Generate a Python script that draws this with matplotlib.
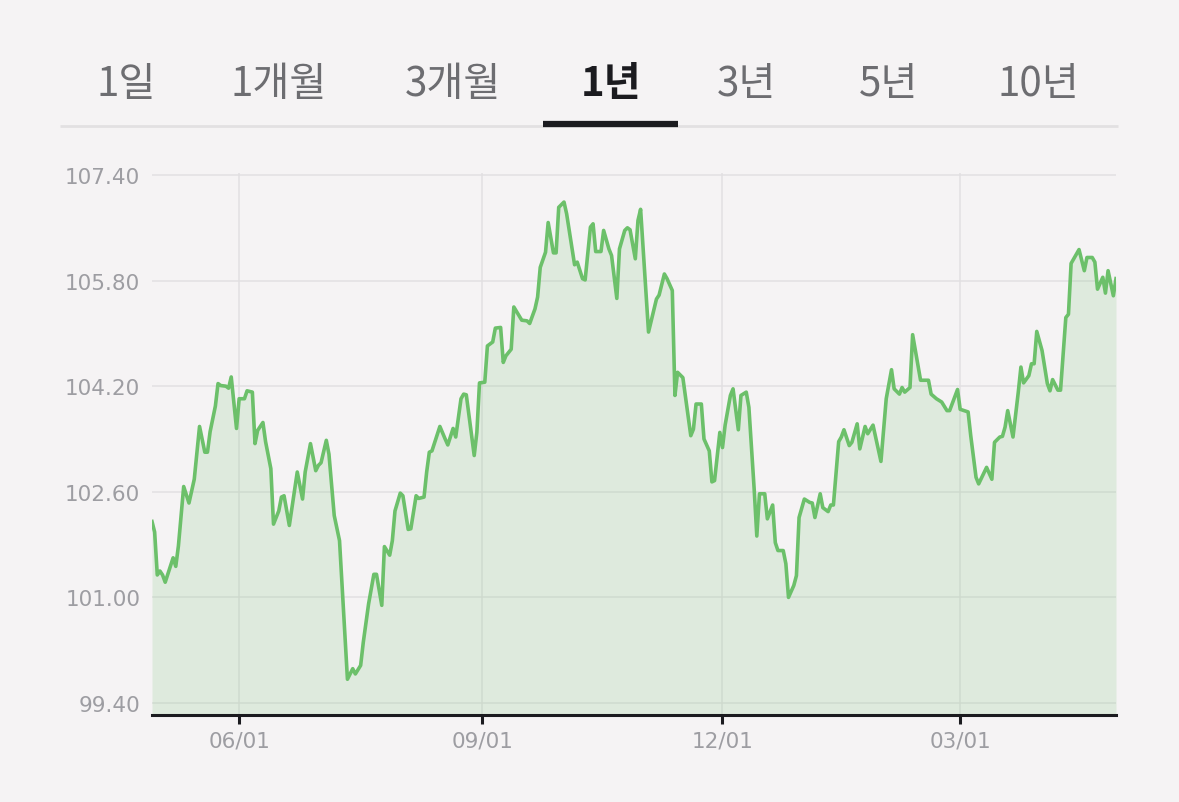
import matplotlib
matplotlib.use("Agg")
import matplotlib.pyplot as plt
import matplotlib.ticker as mticker
from matplotlib.lines import Line2D
import pandas as pd

# ---------------- data ----------------
dates = [
    "2022-04-29", "2022-04-30", "2022-05-01", "2022-05-02", "2022-05-03", "2022-05-04",
    "2022-05-07", "2022-05-08", "2022-05-09", "2022-05-11", "2022-05-13", "2022-05-15",
    "2022-05-17", "2022-05-19", "2022-05-20", "2022-05-21", "2022-05-23", "2022-05-24",
    "2022-05-25", "2022-05-27", "2022-05-28", "2022-05-29", "2022-05-31", "2022-06-01",
    "2022-06-03", "2022-06-04", "2022-06-06", "2022-06-07", "2022-06-08", "2022-06-10",
    "2022-06-11", "2022-06-13", "2022-06-14", "2022-06-16", "2022-06-17", "2022-06-18",
    "2022-06-20", "2022-06-23", "2022-06-25", "2022-06-26", "2022-06-28", "2022-06-30",
    "2022-07-01", "2022-07-02", "2022-07-04", "2022-07-05", "2022-07-07", "2022-07-09",
    "2022-07-12", "2022-07-14", "2022-07-15", "2022-07-17", "2022-07-18", "2022-07-20",
    "2022-07-22", "2022-07-23", "2022-07-25", "2022-07-26", "2022-07-28", "2022-07-29",
    "2022-07-30", "2022-08-01", "2022-08-02", "2022-08-04", "2022-08-05", "2022-08-07",
    "2022-08-08", "2022-08-10", "2022-08-11", "2022-08-12", "2022-08-13", "2022-08-16",
    "2022-08-18", "2022-08-19", "2022-08-21", "2022-08-22", "2022-08-24", "2022-08-25",
    "2022-08-26", "2022-08-29", "2022-08-30", "2022-08-31", "2022-09-02", "2022-09-03",
    "2022-09-05", "2022-09-06", "2022-09-08", "2022-09-09", "2022-09-10", "2022-09-12",
    "2022-09-13", "2022-09-16", "2022-09-18", "2022-09-19", "2022-09-21", "2022-09-22",
    "2022-09-23", "2022-09-25", "2022-09-26", "2022-09-28", "2022-09-29", "2022-09-30",
    "2022-10-02", "2022-10-03", "2022-10-06", "2022-10-07", "2022-10-09", "2022-10-10",
    "2022-10-12", "2022-10-13", "2022-10-14", "2022-10-16", "2022-10-17", "2022-10-19",
    "2022-10-20", "2022-10-22", "2022-10-23", "2022-10-25", "2022-10-26", "2022-10-27",
    "2022-10-29", "2022-10-30", "2022-10-31", "2022-11-03", "2022-11-06", "2022-11-07",
    "2022-11-09", "2022-11-10", "2022-11-12", "2022-11-13", "2022-11-14", "2022-11-16",
    "2022-11-19", "2022-11-20", "2022-11-21", "2022-11-23", "2022-11-24", "2022-11-26",
    "2022-11-27", "2022-11-28", "2022-11-30", "2022-12-01", "2022-12-02", "2022-12-04",
    "2022-12-05", "2022-12-07", "2022-12-08", "2022-12-10", "2022-12-11", "2022-12-13",
    "2022-12-14", "2022-12-15", "2022-12-17", "2022-12-18", "2022-12-20", "2022-12-21",
    "2022-12-22", "2022-12-24", "2022-12-25", "2022-12-26", "2022-12-28", "2022-12-29",
    "2022-12-30", "2023-01-01", "2023-01-03", "2023-01-04", "2023-01-05", "2023-01-07",
    "2023-01-08", "2023-01-10", "2023-01-11", "2023-01-12", "2023-01-14", "2023-01-15",
    "2023-01-16", "2023-01-18", "2023-01-19", "2023-01-21", "2023-01-22", "2023-01-24",
    "2023-01-25", "2023-01-27", "2023-01-30", "2023-02-01", "2023-02-03", "2023-02-04",
    "2023-02-06", "2023-02-07", "2023-02-08", "2023-02-10", "2023-02-11", "2023-02-14",
    "2023-02-17", "2023-02-18", "2023-02-20", "2023-02-22", "2023-02-24", "2023-02-25",
    "2023-02-28", "2023-03-01", "2023-03-04", "2023-03-05", "2023-03-07", "2023-03-08",
    "2023-03-11", "2023-03-13", "2023-03-14", "2023-03-16", "2023-03-17", "2023-03-18",
    "2023-03-19", "2023-03-21", "2023-03-23", "2023-03-24", "2023-03-25", "2023-03-27",
    "2023-03-28", "2023-03-29", "2023-03-30", "2023-04-01", "2023-04-03", "2023-04-04",
    "2023-04-05", "2023-04-07", "2023-04-08", "2023-04-10", "2023-04-11", "2023-04-12",
    "2023-04-14", "2023-04-15", "2023-04-17", "2023-04-18", "2023-04-20", "2023-04-21",
    "2023-04-22", "2023-04-24", "2023-04-25", "2023-04-26", "2023-04-28", "2023-04-29",
]
values = [
    102.15, 101.99, 101.34, 101.40, 101.34, 101.23,
    101.60, 101.47, 101.78, 102.68, 102.43, 102.79,
    103.59, 103.20, 103.20, 103.51, 103.90, 104.24,
    104.21, 104.20, 104.17, 104.34, 103.56, 104.01,
    104.01, 104.13, 104.11, 103.33, 103.53, 103.65,
    103.36, 102.95, 102.11, 102.31, 102.52, 102.54,
    102.09, 102.90, 102.49, 102.90, 103.33, 102.92,
    103.00, 103.04, 103.38, 103.17, 102.24, 101.86,
    99.76, 99.92, 99.84, 99.97, 100.32, 100.90,
    101.35, 101.35, 100.88, 101.77, 101.64, 101.86,
    102.31, 102.58, 102.54, 102.03, 102.04, 102.54,
    102.50, 102.52, 102.90, 103.20, 103.22, 103.59,
    103.40, 103.31, 103.56, 103.43, 104.01, 104.08,
    104.07, 103.15, 103.50, 104.25, 104.26, 104.81,
    104.87, 105.08, 105.09, 104.56, 104.66, 104.76,
    105.40, 105.20, 105.19, 105.15, 105.37, 105.55,
    106.00, 106.23, 106.68, 106.22, 106.22, 106.91,
    106.99, 106.81, 106.04, 106.08, 105.83, 105.81,
    106.61, 106.66, 106.24, 106.24, 106.56, 106.28,
    106.18, 105.53, 106.28, 106.56, 106.60, 106.57,
    106.13, 106.71, 106.88, 105.02, 105.52, 105.58,
    105.90, 105.83, 105.65, 104.06, 104.41, 104.33,
    103.45, 103.55, 103.93, 103.93, 103.40, 103.22,
    102.75, 102.77, 103.50, 103.27, 103.61, 104.06,
    104.16, 103.54, 104.06, 104.11, 103.88, 102.64,
    101.93, 102.57, 102.57, 102.19, 102.40, 101.83,
    101.71, 101.71, 101.51, 101.00, 101.18, 101.33,
    102.21, 102.49, 102.44, 102.43, 102.21, 102.57,
    102.36, 102.30, 102.40, 102.40, 103.36, 103.43,
    103.54, 103.30, 103.35, 103.63, 103.25, 103.59,
    103.48, 103.61, 103.06, 104.01, 104.45, 104.16,
    104.08, 104.18, 104.11, 104.18, 104.98, 104.29,
    104.29, 104.08, 104.01, 103.96, 103.83, 103.83,
    104.15, 103.85, 103.81, 103.45, 102.82, 102.72,
    102.97, 102.79, 103.35, 103.43, 103.44, 103.58,
    103.83, 103.43, 104.11, 104.49, 104.25, 104.36,
    104.54, 104.54, 105.03, 104.74, 104.24, 104.13,
    104.30, 104.14, 104.14, 105.24, 105.29, 106.06,
    106.20, 106.27, 105.95, 106.15, 106.15, 106.08,
    105.67, 105.85, 105.61, 105.95, 105.57, 105.83,
]
tabs = ["1일", "1개월", "3개월", "1년", "3년", "5년", "10년"]
active_tab = "1년"
y_ticks = [99.40, 101.00, 102.60, 104.20, 105.80, 107.40]
x_tick_dates = ["2022-06-01", "2022-09-01", "2022-12-01", "2023-03-01"]
x_tick_labels = ["06/01", "09/01", "12/01", "03/01"]

# ---------------- style ----------------
W, H = 1179, 803
BG = "#f5f3f4"
GREEN = "#6cc06a"
GRID = "#e2e0e2"
LABEL = "#9d9da2"
DARK = "#1b1b1f"

fig = plt.figure(figsize=(W / 100, H / 100), dpi=100, facecolor=BG)

# tab bar
tab_centers_px = [126, 279, 453, 611, 747, 889, 1038]
for name, cx in zip(tabs, tab_centers_px):
    act = name == active_tab
    fig.text(cx / W, 1 - 96 / H, name, ha="center", va="baseline",
             fontsize=29, fontweight="bold" if act else "normal",
             color=DARK if act else "#6d6d71",
             family=["Noto Sans CJK KR", "DejaVu Sans"])
fig.add_artist(Line2D([60 / W, 1118 / W], [1 - 126.5 / H] * 2,
                      color="#e2e0e2", lw=2, solid_capstyle="butt"))
fig.add_artist(Line2D([543 / W, 678 / W], [1 - 125 / H] * 2,
                      color=DARK, lw=4.5, solid_capstyle="butt"))

# chart
ax_left, ax_right, ax_top, ax_bottom = 152, 1116, 174, 715.7
ax = fig.add_axes([ax_left / W, 1 - ax_bottom / H,
                   (ax_right - ax_left) / W, (ax_bottom - ax_top) / H])
ax.set_facecolor(BG)
x = pd.to_datetime(dates)
y_lo, y_hi = 99.223, 107.43
ax.fill_between(x, values, y_lo, color=GREEN, alpha=0.16, linewidth=0, zorder=2)
ax.plot(x, values, color=GREEN, lw=2.6, zorder=3, solid_joinstyle="round")
ax.set_xlim(x[0], x[-1])
ax.set_ylim(y_lo, y_hi)

ax.set_yticks(y_ticks)
ax.yaxis.set_major_formatter(mticker.FormatStrFormatter("%.2f"))
ax.set_xticks(pd.to_datetime(x_tick_dates))
ax.set_xticklabels(x_tick_labels)
ax.set_axisbelow(True)
ax.grid(True, color=GRID, lw=1.1, zorder=0)

for s in ["top", "left", "right"]:
    ax.spines[s].set_visible(False)
ax.spines["bottom"].set_color(DARK)
ax.spines["bottom"].set_linewidth(2.2)
ax.spines["bottom"].set_zorder(5)

ax.tick_params(axis="x", direction="out", length=6.5, width=2.2, color=DARK,
               labelsize=15.5, labelcolor=LABEL, pad=5)
ax.tick_params(axis="y", length=0, labelsize=15.5, labelcolor=LABEL, pad=8.5)

fig.savefig("out.png", dpi=100, facecolor=BG)
